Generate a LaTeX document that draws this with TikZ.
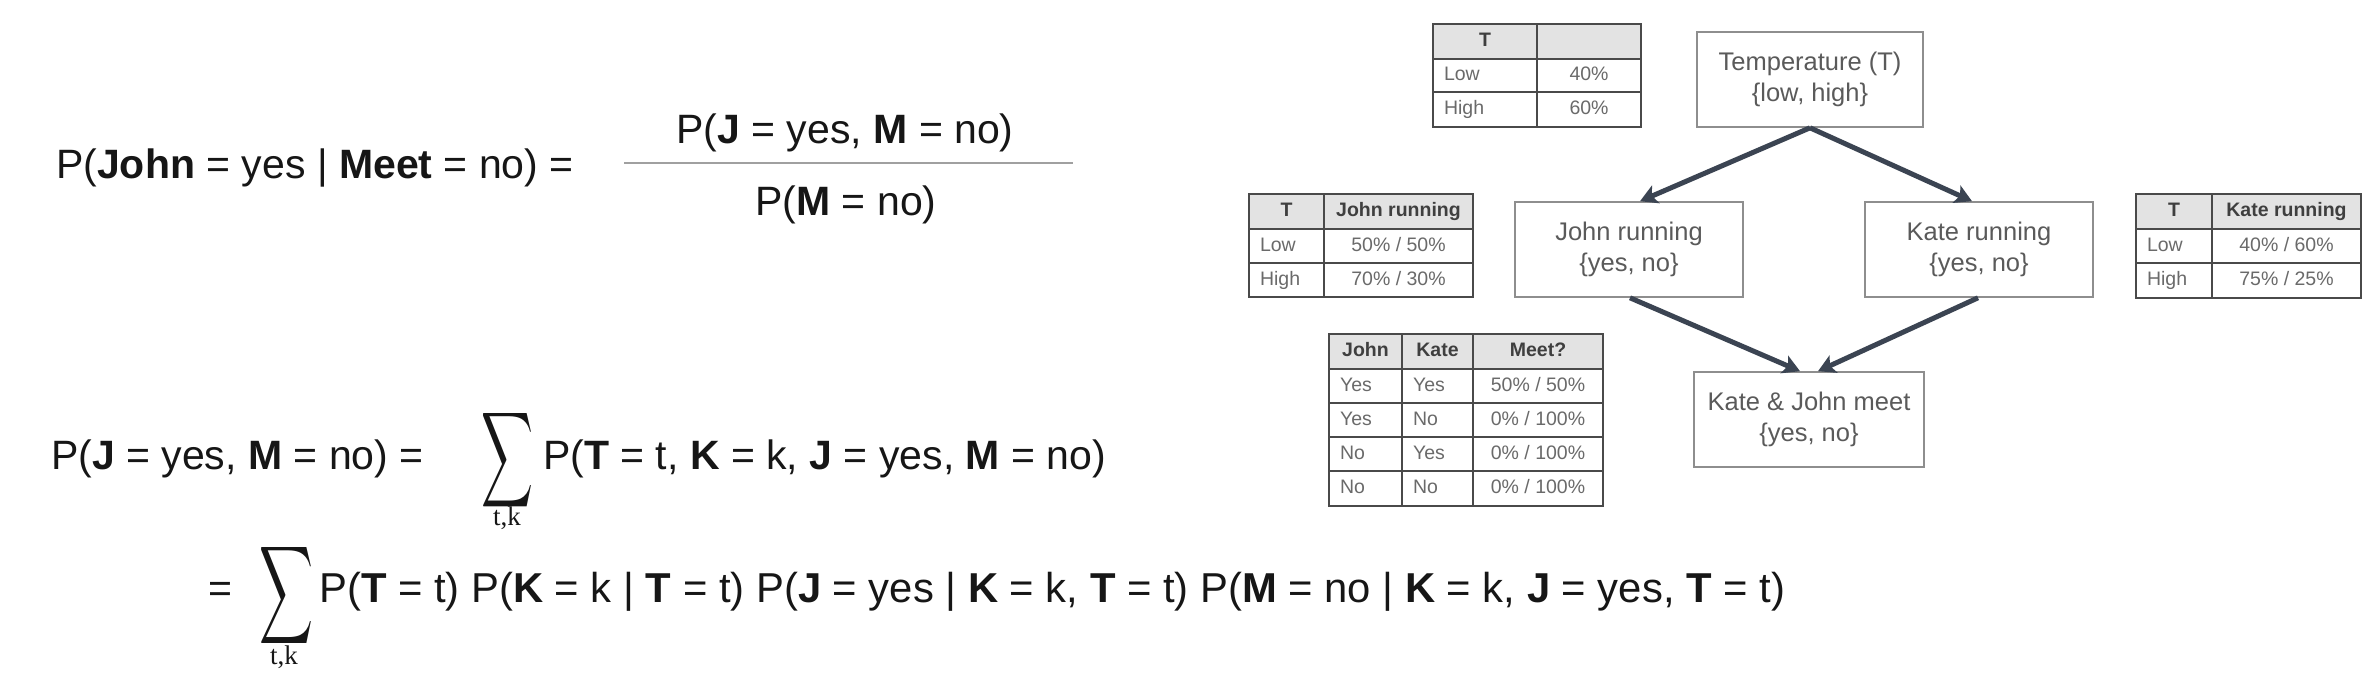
\documentclass[tikz,border=0pt]{standalone}
\usepackage{fontspec}
\setmainfont{Liberation Sans}
\newfontfamily\subfont{Liberation Serif}
\usepackage{graphicx}
\usetikzlibrary{arrows.meta,calc}
\definecolor{formula}{HTML}{161616}
\definecolor{boxtext}{HTML}{5A5A5A}
\definecolor{boxline}{HTML}{8E8E8E}
\definecolor{arrowc}{HTML}{3B4452}
\definecolor{tabline}{HTML}{4A4A4A}
\definecolor{headfill}{HTML}{E3E3E3}
\definecolor{tabtext}{HTML}{6A6A6A}
\definecolor{tabhead}{HTML}{3F3F3F}
\definecolor{fracline}{HTML}{A0A0A0}
\newcommand\cellc[7]{\pgfmathsetmacro\cw{#4-#2}\pgfmathsetmacro\ch{#5-#3}%
  \node[#6,minimum width=\cw pt,minimum height=\ch pt] (#1) at ({(#2+#4)/2},{(#3+#5)/2}) {#7};}
\newcommand\celll[7]{\pgfmathsetmacro\cw{#4-#2}\pgfmathsetmacro\ch{#5-#3}\pgfmathsetmacro\tw{#4-#2-22}%
  \node[#6,minimum width=\cw pt,minimum height=\ch pt,text width=\tw pt,align=left] (#1) at ({(#2+#4)/2},{(#3+#5)/2}) {#7};}
\begin{document}
\begin{tikzpicture}[x=1pt,y=-1pt,
  bnbox/.style={draw=boxline,line width=1.6pt,text=boxtext,align=center,
    font=\fontsize{25.5}{31}\selectfont,inner sep=0pt},
  edge/.style={draw=arrowc,line width=5pt,-{Stealth[length=17pt,width=19pt,inset=4pt]}},
  tcbase/.style={draw=tabline,line width=2pt,inner sep=0pt,text height=14pt,text depth=4pt,
    font=\fontsize{19.5}{23}\selectfont},
  th/.style={tcbase,fill=headfill,text=tabhead,font=\fontsize{19.5}{23}\selectfont\bfseries},
  td/.style={tcbase,fill=white,text=tabtext},
  fml/.style={font=\fontsize{41}{49}\selectfont,text=formula,anchor=base west,inner sep=0pt},
  sumsym/.style={inner sep=0pt,text=formula},
  subsc/.style={inner sep=0pt,text=formula,anchor=base,font=\subfont\fontsize{27}{31}\selectfont},
  fracrule/.style={draw=fracline,line width=2pt}
]
\fill[white] (0,0) rectangle (2368,672);
\useasboundingbox (0,0) rectangle (2368,672);

% ---------- network ----------
\node[bnbox,minimum width=226pt,minimum height=95pt] (temp) at (1810,79.5) {Temperature (T)\\\{low, high\}};
\node[bnbox,minimum width=228pt,minimum height=95pt] (john) at (1629,249.5) {John running\\\{yes, no\}};
\node[bnbox,minimum width=228pt,minimum height=95pt] (kate) at (1979,249.5) {Kate running\\\{yes, no\}};
\node[bnbox,minimum width=230pt,minimum height=95pt] (meet) at (1809,419.5) {Kate \& John meet\\\{yes, no\}};
\draw[edge] (temp.south) -- ([xshift=11pt]john.north);
\draw[edge] (temp.south) -- ([xshift=-7pt]kate.north);
\draw[edge] ([xshift=1pt]john.south) -- ([xshift=-9pt]meet.north);
\draw[edge] ([xshift=-1pt]kate.south) -- ([xshift=9pt]meet.north);

% ---------- table T ----------
\cellc{tA1}{1433}{24}{1537}{59}{th}{T}
\cellc{tA2}{1537}{24}{1641}{59}{th}{}
\celll{tB1}{1433}{59}{1537}{92}{td}{Low}
\cellc{tB2}{1537}{59}{1641}{92}{td}{40\%}
\celll{tC1}{1433}{92}{1537}{127}{td}{High}
\cellc{tC2}{1537}{92}{1641}{127}{td}{60\%}

% ---------- table John ----------
\cellc{jA1}{1249}{194}{1324}{229}{th}{T}
\cellc{jA2}{1324}{194}{1473}{229}{th}{John running}
\celll{jB1}{1249}{229}{1324}{263}{td}{Low}
\cellc{jB2}{1324}{229}{1473}{263}{td}{50\% / 50\%}
\celll{jC1}{1249}{263}{1324}{297}{td}{High}
\cellc{jC2}{1324}{263}{1473}{297}{td}{70\% / 30\%}

% ---------- table Kate ----------
\cellc{kA1}{2136}{194}{2212}{229}{th}{T}
\cellc{kA2}{2212}{194}{2361}{229}{th}{Kate running}
\celll{kB1}{2136}{229}{2212}{263}{td}{Low}
\cellc{kB2}{2212}{229}{2361}{263}{td}{40\% / 60\%}
\celll{kC1}{2136}{263}{2212}{298}{td}{High}
\cellc{kC2}{2212}{263}{2361}{298}{td}{75\% / 25\%}

% ---------- table Meet ----------
\cellc{mA1}{1329}{334}{1402}{369}{th}{John}
\cellc{mA2}{1402}{334}{1473}{369}{th}{Kate}
\cellc{mA3}{1473}{334}{1603}{369}{th}{Meet?}
\celll{mB1}{1329}{369}{1402}{403}{td}{Yes}
\celll{mB2}{1402}{369}{1473}{403}{td}{Yes}
\cellc{mB3}{1473}{369}{1603}{403}{td}{50\% / 50\%}
\celll{mC1}{1329}{403}{1402}{437}{td}{Yes}
\celll{mC2}{1402}{403}{1473}{437}{td}{No}
\cellc{mC3}{1473}{403}{1603}{437}{td}{0\% / 100\%}
\celll{mD1}{1329}{437}{1402}{471}{td}{No}
\celll{mD2}{1402}{437}{1473}{471}{td}{Yes}
\cellc{mD3}{1473}{437}{1603}{471}{td}{0\% / 100\%}
\celll{mE1}{1329}{471}{1402}{506}{td}{No}
\celll{mE2}{1402}{471}{1473}{506}{td}{No}
\cellc{mE3}{1473}{471}{1603}{506}{td}{0\% / 100\%}

% ---------- formulas ----------
\node[fml] (f1) at (56,178) {P(\textbf{John} = yes | \textbf{Meet} = no) =};
\node[fml,anchor=base] (num) at (845,143) {P(\textbf{J} = yes, \textbf{M} = no)};
\node[fml,anchor=base] (den) at (846,215) {P(\textbf{M} = no)};
\coordinate (fl) at (624,163);
\coordinate (fr) at (1073,163);
\draw[fracrule] (fl) -- (fr);

\node[fml] (f2) at (51,469) {P(\textbf{J} = yes, \textbf{M} = no) =};
\node[sumsym] (s2) at (507,460) {\resizebox{52pt}{70pt}{$\displaystyle\sum$}};
\node[subsc] (s2i) at (507,525) {t,k};
\node[fml] (f2b) at (543,469) {P(\textbf{T} = t, \textbf{K} = k, \textbf{J} = yes, \textbf{M} = no)};

\node[fml] (f3a) at (208,602) {=};
\node[sumsym] (s3) at (287,595) {\resizebox{54pt}{72pt}{$\displaystyle\sum$}};
\node[subsc] (s3i) at (284,664) {t,k};
\node[fml,font=\fontsize{41.8}{49}\selectfont] (f3b) at (319,602) {P(\textbf{T} = t) P(\textbf{K} = k | \textbf{T} = t) P(\textbf{J} = yes | \textbf{K} = k, \textbf{T} = t) P(\textbf{M} = no | \textbf{K} = k, \textbf{J} = yes, \textbf{T} = t)};
\end{tikzpicture}
\end{document}
